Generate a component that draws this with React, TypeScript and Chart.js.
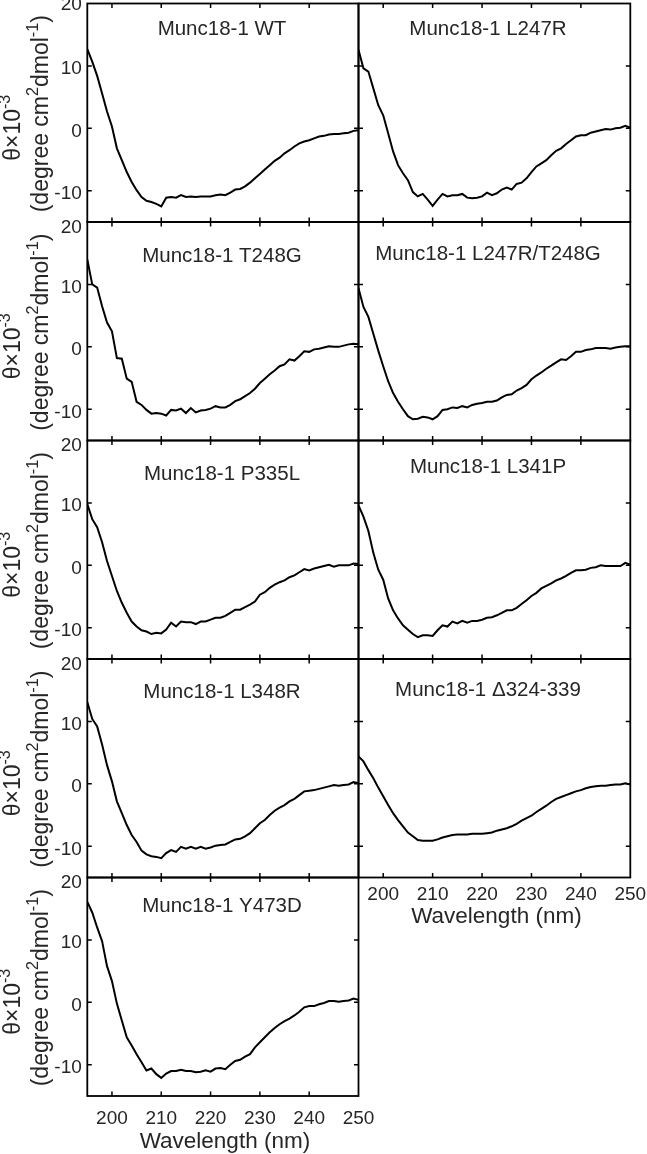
import React, { useEffect, useRef } from 'react';
import { Chart, registerables } from 'chart.js';

Chart.register(...registerables);

// ---------------- DATA ----------------
const wavelengths = [
  195, 196, 197, 198, 199, 200, 201, 202, 203, 204, 205, 206, 207, 208, 209, 210,
  211, 212, 213, 214, 215, 216, 217, 218, 219, 220, 221, 222, 223, 224, 225, 226,
  227, 228, 229, 230, 231, 232, 233, 234, 235, 236, 237, 238, 239, 240, 241, 242,
  243, 244, 245, 246, 247, 248, 249, 250,
];

const wt = [
  12.7, 10.7, 8.4, 5.6, 2.7, 0.3,
  -3.2, -5.1, -7.0, -8.6, -9.9, -11.0, -11.6, -11.8, -12.1, -12.5,
  -11.1, -11.0, -11.1, -10.7, -11.0, -10.9, -11.0, -10.9, -10.9, -10.9,
  -10.7, -10.6, -10.7, -10.3, -9.8, -9.7, -9.3, -8.7, -8.0, -7.3,
  -6.6, -5.9, -5.2, -4.7, -4.0, -3.5, -2.9, -2.4, -2.1, -1.9,
  -1.6, -1.3, -1.2, -1.0, -0.9, -0.9, -0.8, -0.7, -0.4, -0.3,
];

const l247r = [
  12.6, 9.6, 9.1, 6.4, 3.7, 2.1,
  -0.8, -3.7, -5.9, -7.2, -8.3, -10.2, -10.9, -10.5, -11.4, -12.4,
  -11.4, -10.5, -10.9, -10.7, -10.7, -10.5, -11.1, -11.2, -11.1, -10.9,
  -10.3, -10.7, -10.4, -9.8, -9.5, -9.8, -8.9, -8.7, -8.0, -7.0,
  -6.1, -5.6, -5.1, -4.3, -3.6, -3.2, -2.5, -1.9, -1.3, -1.1,
  -1.1, -0.7, -0.5, -0.3, -0.1, -0.2, 0.0, 0.1, 0.4, 0.1,
];

const t248g = [
  14.0, 10.0, 9.5, 6.5, 3.9, 2.5,
  -1.8, -1.9, -5.1, -5.6, -8.8, -9.3, -10.1, -10.7, -10.6, -10.7,
  -11.0, -10.1, -10.2, -9.9, -10.6, -9.8, -10.5, -10.2, -10.1, -9.9,
  -9.5, -9.7, -9.7, -9.3, -8.7, -8.4, -7.9, -7.4, -6.7, -5.8,
  -5.1, -4.4, -3.8, -3.1, -2.8, -2.0, -2.2, -1.5, -0.7, -0.8,
  -0.4, -0.3, -0.1, 0.1, 0.0, 0.0, 0.2, 0.4, 0.5, 0.4,
];

const l247rT248g = [
  9.4, 6.4, 4.8, 2.1, -0.6, -3.1,
  -5.5, -7.4, -8.8, -10.0, -11.1, -11.6, -11.5, -11.2, -11.3, -11.6,
  -11.1, -10.1, -10.0, -9.7, -9.8, -9.5, -9.7, -9.3, -9.1, -9.0,
  -8.8, -8.8, -8.6, -8.1, -7.7, -7.6, -7.0, -6.6, -6.1, -5.2,
  -4.6, -4.1, -3.5, -3.0, -2.5, -2.0, -2.1, -1.5, -0.8, -0.8,
  -0.5, -0.4, -0.2, -0.2, -0.2, -0.3, -0.1, 0.0, 0.1, 0.1,
];

const p335l = [
  9.8, 7.4, 6.1, 3.7, 0.7, -1.7,
  -4.1, -6.0, -7.6, -9.0, -9.8, -10.4, -10.6, -11.0, -10.8, -10.9,
  -10.3, -9.2, -9.8, -9.0, -9.1, -9.1, -9.4, -9.0, -9.0, -8.7,
  -8.4, -8.4, -8.1, -7.6, -7.1, -7.1, -6.7, -6.3, -5.8, -4.7,
  -4.3, -3.6, -3.1, -2.7, -2.4, -1.9, -1.6, -1.1, -0.6, -0.8,
  -0.5, -0.3, -0.1, 0.1, -0.2, 0.0, 0.0, 0.0, 0.3, 0.2,
];

const l341p = [
  9.6, 7.8, 5.5, 2.0, -0.7, -2.3,
  -5.3, -7.2, -8.5, -9.6, -10.3, -11.0, -11.5, -11.2, -11.2, -11.3,
  -10.4, -9.6, -9.8, -9.0, -9.3, -8.9, -9.2, -8.9, -8.9, -8.7,
  -8.4, -8.3, -8.0, -7.6, -7.2, -7.2, -6.8, -6.2, -5.6, -4.9,
  -4.4, -3.7, -3.3, -2.9, -2.4, -2.1, -1.7, -1.2, -0.8, -0.8,
  -0.7, -0.4, -0.3, 0.0, -0.1, -0.1, -0.1, -0.1, 0.4, 0.1,
];

const l348r = [
  13.1, 10.4, 9.2, 6.3, 3.0, 0.4,
  -2.8, -4.7, -6.6, -8.2, -9.3, -10.7, -11.3, -11.6, -11.7, -11.9,
  -11.1, -10.6, -10.9, -10.1, -10.4, -10.1, -10.4, -10.1, -10.4, -10.2,
  -9.9, -9.8, -9.7, -9.3, -8.9, -8.8, -8.4, -7.9, -7.1, -6.3,
  -5.8, -5.0, -4.3, -3.8, -3.4, -2.8, -2.4, -1.8, -1.2, -1.1,
  -1.0, -0.8, -0.6, -0.4, -0.2, -0.3, -0.2, -0.1, 0.3, 0.1,
];

const d324_339 = [
  4.4, 3.6, 2.2, 0.9, -0.6, -2.0,
  -3.4, -4.7, -5.8, -6.8, -7.8, -8.4, -9.0, -9.1, -9.1, -9.1,
  -8.9, -8.6, -8.4, -8.2, -8.1, -8.1, -8.1, -8.0, -8.0, -8.0,
  -7.9, -7.8, -7.5, -7.3, -7.1, -6.8, -6.4, -5.9, -5.5, -5.1,
  -4.5, -4.0, -3.5, -2.9, -2.4, -2.1, -1.8, -1.5, -1.2, -1.0,
  -0.7, -0.5, -0.4, -0.3, -0.3, -0.2, -0.1, -0.1, 0.1, -0.1,
];

const y473d = [
  16.1, 14.4, 12.0, 9.8, 5.8, 3.4,
  -0.2, -2.9, -5.6, -6.9, -8.3, -9.6, -10.9, -10.6, -11.5, -12.1,
  -11.4, -11.0, -11.0, -10.8, -11.0, -11.0, -11.2, -11.1, -10.9, -11.1,
  -10.6, -10.5, -10.7, -10.0, -9.4, -9.2, -8.7, -8.3, -7.2, -6.4,
  -5.6, -4.8, -4.1, -3.5, -3.0, -2.6, -2.1, -1.5, -0.8, -0.6,
  -0.6, -0.3, -0.1, 0.2, 0.2, 0.1, 0.2, 0.3, 0.6, 0.4,
];

const panelTitles = [
  'Munc18-1 WT',
  'Munc18-1 L247R',
  'Munc18-1 T248G',
  'Munc18-1 L247R/T248G',
  'Munc18-1 P335L',
  'Munc18-1 L341P',
  'Munc18-1 L348R',
  'Munc18-1 \u0394324-339',
  'Munc18-1 Y473D',
];

const panelSeries = [wt, l247r, t248g, l247rT248g, p335l, l341p, l348r, d324_339, y473d];

const xTicks = [200, 210, 220, 230, 240, 250];
const xTickLabels = ['200', '210', '220', '230', '240', '250'];
const yTicks = [-10, 0, 10, 20];
const yTickLabels = ['-10', '0', '10', '20'];

const X_MIN = 195;
const X_MAX = 250;
const Y_MIN = -15;
const Y_MAX = 20;

// ---------------- LAYOUT / STYLE ----------------
const W = 647;
const H = 1154;
const FONT = '"Liberation Sans", Arial, Helvetica, sans-serif';
const TEXT = '#262626';
const COL_X = [
  [87.3, 358.5],
  [358.5, 630.3],
];
const ROW_TOP = 3.5;
const ROW_H = 218.5;
const TITLE_CX = [222, 488];
const TITLE_DY = [24, 24, 33, 30.7, 32, 25, 32, 30, 27];
const BOTTOM_PANELS = [7, 8];
const XLABEL_DY = [21, 16]; // by column
const XTITLE_DY = [44, 37]; // by column
const YTITLE_SIZE = 23;

type Seg = { t: string; sup?: boolean };

function drawRich(ctx: CanvasRenderingContext2D, segs: Seg[], size: number) {
  // draws centered at (0,0) on the baseline
  const supSize = size * 0.7;
  let total = 0;
  const widths: number[] = [];
  for (const s of segs) {
    ctx.font = `${s.sup ? supSize : size}px ${FONT}`;
    const w = ctx.measureText(s.t).width;
    widths.push(w);
    total += w;
  }
  let x = -total / 2;
  ctx.textAlign = 'left';
  ctx.textBaseline = 'alphabetic';
  segs.forEach((s, i) => {
    ctx.font = `${s.sup ? supSize : size}px ${FONT}`;
    ctx.fillText(s.t, x, s.sup ? -size * 0.42 : 0);
    x += widths[i];
  });
}

function makeDecor(index: number) {
  const col = index % 2;
  const row = Math.floor(index / 2);
  const isBottom = BOTTOM_PANELS.includes(index);
  return {
    id: 'decor' + index,
    afterDatasetsDraw(chart: any) {
      const { ctx, chartArea: a, scales } = chart;
      const xs = scales.x;
      const ys = scales.y;
      ctx.save();
      // frame
      ctx.strokeStyle = '#000';
      ctx.lineWidth = 1.8;
      ctx.strokeRect(a.left, a.top, a.right - a.left, a.bottom - a.top);
      // ticks (inward)
      const tl = 4.5;
      ctx.lineWidth = 1.5;
      ctx.beginPath();
      xTicks.forEach((v) => {
        if (v <= X_MIN || v >= X_MAX) return;
        const px = xs.getPixelForValue(v);
        ctx.moveTo(px, a.bottom);
        ctx.lineTo(px, a.bottom - tl);
        ctx.moveTo(px, a.top);
        ctx.lineTo(px, a.top + tl);
      });
      yTicks.forEach((v) => {
        if (v <= Y_MIN || v >= Y_MAX) return;
        const py = ys.getPixelForValue(v);
        ctx.moveTo(a.left, py);
        ctx.lineTo(a.left + tl, py);
        ctx.moveTo(a.right, py);
        ctx.lineTo(a.right - tl, py);
      });
      ctx.stroke();

      ctx.fillStyle = TEXT;
      const tickSize = 19;
      // y tick labels
      if (col === 0) {
        ctx.font = `${tickSize}px ${FONT}`;
        ctx.textAlign = 'right';
        ctx.textBaseline = 'alphabetic';
        yTicks.forEach((v, i) => {
          const py = ys.getPixelForValue(v);
          let dy = 1.5;
          if (v === Y_MAX) dy = row === 0 ? 0 : 4;
          ctx.fillText(yTickLabels[i], a.left - 5.5, py + dy + tickSize * 0.358);
        });
        // y axis title (two lines, rotated)
        const cy = (a.top + a.bottom) / 2;
        ctx.save();
        ctx.translate(20, cy + 15);
        ctx.rotate(-Math.PI / 2);
        drawRich(ctx, [{ t: '\u03b8\u00d710' }, { t: '-3', sup: true }], YTITLE_SIZE);
        ctx.restore();
        ctx.save();
        ctx.translate(48, cy + 1);
        ctx.rotate(-Math.PI / 2);
        drawRich(
          ctx,
          [
            { t: '(degree cm' },
            { t: '2', sup: true },
            { t: 'dmol' },
            { t: '-1', sup: true },
            { t: ')' },
          ],
          YTITLE_SIZE
        );
        ctx.restore();
      }
      // x tick labels & title
      if (isBottom) {
        ctx.font = `${tickSize}px ${FONT}`;
        ctx.textAlign = 'center';
        ctx.textBaseline = 'alphabetic';
        xTicks.forEach((v, i) => {
          const px = xs.getPixelForValue(v);
          ctx.fillText(xTickLabels[i], px, a.bottom + XLABEL_DY[col] + tickSize * 0.358);
        });
        ctx.font = `22.5px ${FONT}`;
        ctx.fillText(
          'Wavelength (nm)',
          (a.left + a.right) / 2 + 2,
          a.bottom + XTITLE_DY[col] + 22.5 * 0.358
        );
      }
      // panel title
      ctx.font = `20.5px ${FONT}`;
      ctx.textAlign = 'center';
      ctx.textBaseline = 'alphabetic';
      ctx.fillText(panelTitles[index], TITLE_CX[col], a.top + TITLE_DY[index] + 20.5 * 0.358);
      ctx.restore();
    },
  };
}

function Panel({ index }: { index: number }) {
  const ref = useRef<HTMLCanvasElement | null>(null);
  useEffect(() => {
    const canvas = ref.current;
    if (!canvas) return;
    const col = index % 2;
    const row = Math.floor(index / 2);
    const left = COL_X[col][0];
    const right = COL_X[col][1];
    const top = ROW_TOP + row * ROW_H;
    const bottom = top + ROW_H;
    const series = panelSeries[index];
    const chart = new Chart(canvas, {
      type: 'line',
      data: {
        datasets: [
          {
            data: wavelengths.map((x, i) => ({ x, y: series[i] })),
            borderColor: '#000',
            borderWidth: 2,
            pointRadius: 0,
            tension: 0,
            fill: false,
          },
        ],
      },
      options: {
        animation: false,
        responsive: false,
        devicePixelRatio: 1,
        events: [],
        layout: {
          padding: { left, top, right: W - right, bottom: H - bottom },
        },
        scales: {
          x: { type: 'linear', min: X_MIN, max: X_MAX, display: false },
          y: { type: 'linear', min: Y_MIN, max: Y_MAX, display: false },
        },
        plugins: {
          legend: { display: false },
          tooltip: { enabled: false },
          title: { display: false },
        },
      },
      plugins: [makeDecor(index)],
    } as any);
    return () => chart.destroy();
  }, [index]);
  return (
    <canvas
      ref={ref}
      width={W}
      height={H}
      style={{ position: 'absolute', left: 0, top: 0, width: W, height: H }}
    />
  );
}

export default function App() {
  return (
    <div
      style={{
        position: 'absolute',
        left: 0,
        top: 0,
        width: W,
        height: H,
        background: '#fff',
        overflow: 'hidden',
      }}
    >
      {panelTitles.map((_, i) => (
        <Panel key={i} index={i} />
      ))}
    </div>
  );
}
